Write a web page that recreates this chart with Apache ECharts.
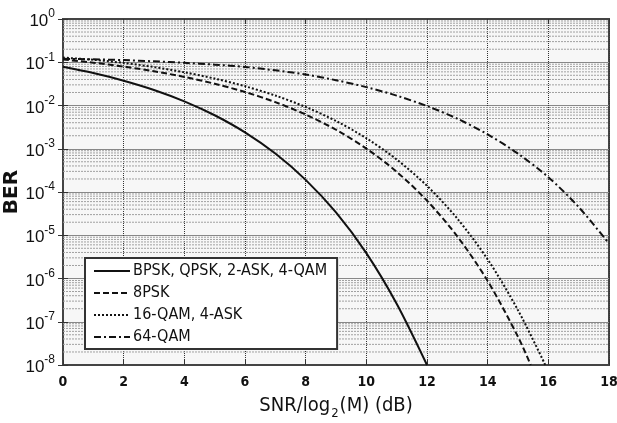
<!DOCTYPE html>
<html>
<head>
<meta charset="utf-8">
<script src="https://cdn.jsdelivr.net/npm/echarts@6/dist/echarts.min.js"></script>
<style>
html,body{margin:0;padding:0;background:#fff;}
#chart{width:617px;height:423px;}
</style>
</head>
<body>
<div id="chart"></div>
<script>
// ---- data ----
const seriesNames = ['BPSK, QPSK, 2-ASK, 4-QAM', '8PSK', '16-QAM, 4-ASK', '64-QAM'];

const snrBpsk = [0,1,2,3,4,5,6,7,8,9,10,11,12];
const berBpsk = [0.0786,0.0563,0.0375,0.0229,0.0125,0.00595,0.00239,7.73e-4,1.91e-4,3.36e-5,3.87e-6,2.61e-7,1.0e-8];

const snr8psk = [0,1,2,3,4,5,6,7,8,9,10,11,12,13,14,15,15.42];
const ber8psk = [0.116,0.0976,0.0793,0.0618,0.0458,0.0319,0.0205,0.0120,0.00618,0.00275,1.01e-3,2.94e-4,6.3e-5,9.4e-6,8.8e-7,4.5e-8,1.0e-8];

const snr16qam = [0,1,2,3,4,5,6,7,8,9,10,11,12,13,14,15,15.9];
const ber16qam = [0.128,0.114,0.0965,0.0774,0.0586,0.0419,0.0279,0.0170,0.00925,0.00439,0.00175,5.65e-4,1.39e-4,2.42e-5,2.77e-6,1.85e-7,1.0e-8];

const snr64qam = [0,1,2,3,4,5,6,7,8,9,10,11,12,13,14,15,16,17,18];
const ber64qam = [0.12,0.117,0.112,0.105,0.097,0.088,0.078,0.065,0.052,0.0385,0.0266,0.0169,0.0097,0.00495,0.00215,7.7e-4,2.2e-4,4.5e-5,6.4e-6];

const xTicks = [0,2,4,6,8,10,12,14,16,18];
const yExponents = [0,-1,-2,-3,-4,-5,-6,-7,-8];

// ---- build ----
function pairs(xs, ys){ return xs.map((x,i)=>[x, ys[i]]); }

const minorVals = [];
for (let e = yExponents[yExponents.length-1]; e < yExponents[0]; e++) {
  for (let m = 2; m <= 9; m++) minorVals.push([0, m * Math.pow(10, e)]);
}

const lineColor = '#111';
const chart = echarts.init(document.getElementById('chart'), null, {renderer:'canvas'});

const option = {
  animation: false,
  backgroundColor: '#fff',
  grid: { left: 63, right: 8, top: 19, bottom: 58, outerBoundsMode: 'none', containLabel: false,
          show: true, backgroundColor: '#f7f7f7', borderColor: '#444', borderWidth: 2 },
  legend: {
    orient: 'vertical',
    left: 85, top: 258,
    data: seriesNames,
    backgroundColor: '#fff',
    borderColor: '#333', borderWidth: 2, borderRadius: 0,
    padding: [5, 10, 4, 8],
    itemWidth: 36, itemHeight: 14, itemGap: 6,
    itemStyle: { opacity: 0 },
    textStyle: { fontFamily: 'DejaVu Sans Condensed, DejaVu Sans', fontSize: 16, lineHeight: 14, color: '#111', padding: [0,0,0,-2] }
  },
  xAxis: [{
    type: 'value', min: 0, max: 18, interval: 2,
    name: '{a|SNR/log}{sub|2}{a|(M) (dB)}',
    nameLocation: 'middle', nameGap: 31, nameMoveOverlap: false,
    nameTextStyle: {
      rich: {
        a: { fontFamily: 'DejaVu Sans Condensed, DejaVu Sans', fontSize: 20, color: '#111', lineHeight: 24, verticalAlign: 'top' },
        sub: { fontFamily: 'DejaVu Sans Condensed, DejaVu Sans', fontSize: 13, color: '#111', lineHeight: 14, verticalAlign: 'bottom', padding: [0,1,0,1] }
      }
    },
    axisLine: { show: true, lineStyle: { color: '#444', width: 2 } },
    axisTick: { show: true, inside: true, length: 5, lineStyle: { color: '#333' } },
    axisLabel: { fontFamily: 'DejaVu Sans Condensed, DejaVu Sans', fontSize: 14, color: '#111', margin: 10, fontWeight: 'bold' },
    splitLine: { show: true, lineStyle: { type: [1,1], color: '#333', width: 1 } }
  }, {
    type: 'value', min: 0, max: 18, interval: 2, position: 'top',
    axisLine: { show: true, lineStyle: { color: '#444', width: 2 } },
    axisTick: { show: true, inside: true, length: 5, lineStyle: { color: '#333' } },
    axisLabel: { show: false }, splitLine: { show: false }
  }],
  yAxis: [{
    type: 'log', logBase: 10, min: 1e-8, max: 1, interval: 1,
    name: 'BER', nameLocation: 'middle', nameGap: 41, nameMoveOverlap: false,
    nameTextStyle: { fontFamily: 'DejaVu Sans', fontSize: 20, fontWeight: 'bold', color: '#111' },
    axisLine: { show: true, lineStyle: { color: '#444', width: 2 } },
    axisTick: { show: true, inside: true, length: 5, lineStyle: { color: '#333' } },
    axisLabel: {
      margin: 8,
      formatter: function (v) {
        const e = Math.round(Math.log10(v));
        return '{b|10}{s|' + e + '}';
      },
      rich: {
        b: { fontFamily: 'Liberation Sans, Arial', fontSize: 17, color: '#111', lineHeight: 22, verticalAlign: 'bottom' },
        s: { fontFamily: 'Liberation Sans, Arial', fontSize: 12, color: '#111', lineHeight: 12, verticalAlign: 'top' }
      }
    },
    splitLine: { show: true, lineStyle: { color: '#888', width: 1 } }
  }, {
    type: 'log', logBase: 10, min: 1e-8, max: 1, interval: 1, position: 'right',
    axisLine: { show: true, lineStyle: { color: '#444', width: 2 } },
    axisTick: { show: true, inside: true, length: 5, lineStyle: { color: '#333' } },
    axisLabel: { show: false }, splitLine: { show: false }
  }],
  series: [
    {
      name: '__minorGrid', type: 'custom', data: minorVals, silent: true, z: 1,
      encode: { x: 0, y: 1 },
      renderItem: function (params, api) {
        const v = api.value(1);
        const p = api.coord([0, v]);
        const cs = params.coordSys;
        return {
          type: 'line',
          shape: { x1: cs.x, y1: p[1], x2: cs.x + cs.width, y2: p[1] },
          style: { stroke: '#a0a0a0', lineWidth: 1, lineDash: [2, 1] }
        };
      }
    },
    {
      name: seriesNames[0], type: 'line', data: pairs(snrBpsk, berBpsk),
      showSymbol: false, symbol: 'none', smooth: 0.3, clip: true, z: 3,
      lineStyle: { color: lineColor, width: 2, type: 'solid' }, itemStyle: { color: lineColor }
    },
    {
      name: seriesNames[1], type: 'line', data: pairs(snr8psk, ber8psk),
      showSymbol: false, symbol: 'none', smooth: 0.3, clip: true, z: 3,
      lineStyle: { color: lineColor, width: 2, type: [6,3] }, itemStyle: { color: lineColor }
    },
    {
      name: seriesNames[2], type: 'line', data: pairs(snr16qam, ber16qam),
      showSymbol: false, symbol: 'none', smooth: 0.3, clip: true, z: 3,
      lineStyle: { color: lineColor, width: 2, type: [2,2] }, itemStyle: { color: lineColor }
    },
    {
      name: seriesNames[3], type: 'line', data: pairs(snr64qam, ber64qam),
      showSymbol: false, symbol: 'none', smooth: 0.3, clip: true, z: 3,
      lineStyle: { color: lineColor, width: 2, type: [7,3,2,3] }, itemStyle: { color: lineColor }
    }
  ]
};
chart.setOption(option);
</script>
</body>
</html>
